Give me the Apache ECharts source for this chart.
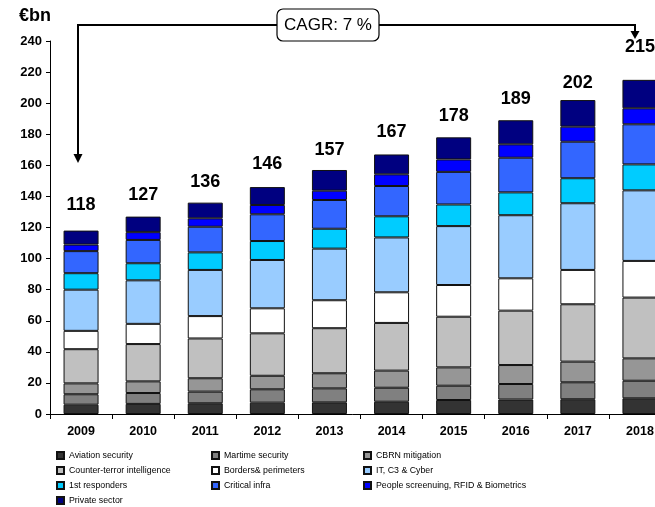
<!DOCTYPE html>
<html>
<head>
<meta charset="utf-8">
<script src="https://cdn.jsdelivr.net/npm/echarts@6/dist/echarts.min.js"></script>
<style>
html,body{margin:0;padding:0;background:#fff;}
#chart{width:655px;height:507px;}
</style>
</head>
<body>
<div id="chart"></div>
<script>
// ---- data ----
const years = ['2009','2010','2011','2012','2013','2014','2015','2016','2017','2018'];
const totals = [118,127,136,146,157,167,178,189,202,215];
const seriesNames = ['Aviation security','Martime security','CBRN mitigation','Counter-terror intelligence','Borders& perimeters','IT, C3 & Cyber','1st responders','Critical infra','People screenuing, RFID & Biometrics','Private sector'];
const aviation   = [6.0,6.5,6.9,7.3,7.5,7.9,9.0,9.3,9.5,10.1];
const maritime   = [6.7,7.0,7.5,8.6,9.0,9.0,9.2,10.0,10.9,11.3];
const cbrn       = [7.0,7.5,8.6,8.7,9.7,11.0,11.8,12.2,13.3,14.4];
const ctIntel    = [22.0,24.0,25.6,27.3,29.0,30.7,32.6,35.0,36.9,39.1];
const borders    = [11.8,13.0,14.4,16.1,18.0,19.7,20.4,20.8,22.1,23.6];
const itCyber    = [26.5,28.0,29.7,31.1,33.2,35.3,37.9,40.6,42.9,45.4];
const responders = [10.6,11.0,11.3,12.2,12.8,13.6,13.9,14.7,16.1,16.7];
const critical   = [14.2,15.0,16.5,17.2,18.5,19.5,21.0,22.3,23.5,25.8];
const people     = [4.2,5.0,5.4,6.0,6.0,7.5,8.0,8.6,9.7,10.3];
const privateSec = [9.0,10.0,10.1,11.5,13.3,12.8,14.2,15.5,17.1,18.3];
const yTicks = {min:0, max:240, interval:20};
const cagrText = 'CAGR: 7 %';
const unitText = '€bn';

// ---- styles ----
const colors = ['#333333','#808080','#969696','#C0C0C0','#FFFFFF','#99CCFF','#00CCFF','#3366FF','#0000FF','#000080'];
const totalLabelGap = [17,13,12,14,11,13,12,12,8,24];
const FONT = 'Liberation Sans, Arial, sans-serif';

const values = [aviation,maritime,cbrn,ctIntel,borders,itCyber,responders,critical,people,privateSec];

const series = values.map((arr, i) => {
  const isLast = i === values.length - 1;
  return {
    name: seriesNames[i],
    type: 'bar',
    stack: 'total',
    barWidth: 35,
    itemStyle: {color: colors[i], borderColor: '#111', borderWidth: 1},
    emphasis: {disabled: true},
    animation: false,
    data: arr.map((v, j) => isLast ? {
      value: v,
      label: {
        show: true, position: 'top', distance: totalLabelGap[j],
        formatter: () => String(totals[j]),
        fontFamily: FONT, fontWeight: 'bold', fontSize: 18, color: '#000'
      }
    } : v)
  };
});

const legendCommon = {
  orient: 'vertical', itemWidth: 7, itemHeight: 7, itemGap: 6, icon: 'rect',
  textStyle: {fontFamily: FONT, fontSize: 8.8, color: '#000'},
  selectedMode: false, padding: 0
};

const chart = echarts.init(document.getElementById('chart'), null, {renderer: 'canvas'});
chart.setOption({
  animation: false,
  backgroundColor: '#fff',
  grid: {left: 50, top: 41, width: 621, height: 373, containLabel: false, outerBoundsMode: 'none'},
  xAxis: {
    type: 'category', data: years,
    axisLine: {show: true, lineStyle: {color: '#000', width: 1}},
    axisTick: {show: true, length: 5, lineStyle: {color: '#000'}},
    axisLabel: {fontFamily: FONT, fontWeight: 'bold', fontSize: 12.5, color: '#000', margin: 11}
  },
  yAxis: {
    type: 'value', min: yTicks.min, max: yTicks.max, interval: yTicks.interval,
    splitLine: {show: false},
    axisLine: {show: true, lineStyle: {color: '#000', width: 1}},
    axisTick: {show: true, length: 4, lineStyle: {color: '#000'}},
    axisLabel: {fontFamily: FONT, fontWeight: 'bold', fontSize: 13, color: '#000', margin: 8}
  },
  legend: [
    Object.assign({left: 56, top: 451, data: [seriesNames[0], seriesNames[3], seriesNames[6], seriesNames[9]]}, legendCommon),
    Object.assign({left: 211, top: 451, data: [seriesNames[1], seriesNames[4], seriesNames[7]]}, legendCommon),
    Object.assign({left: 363, top: 451, data: [seriesNames[2], seriesNames[5], seriesNames[8]]}, legendCommon)
  ],
  series: series,
  graphic: [
    {type: 'text', left: 19, top: 7, style: {text: unitText, font: 'bold 18px ' + FONT, fill: '#000'}},
    {type: 'polyline', shape: {points: [[78,155],[78,25],[277,25]]}, style: {stroke: '#000', lineWidth: 2, fill: null}},
    {type: 'polygon', shape: {points: [[73.5,154],[82.5,154],[78,163]]}, style: {fill: '#000'}},
    {type: 'polyline', shape: {points: [[379,25],[635,25],[635,32]]}, style: {stroke: '#000', lineWidth: 2, fill: null}},
    {type: 'polygon', shape: {points: [[630.5,31],[639.5,31],[635,39]]}, style: {fill: '#000'}},
    {type: 'rect', shape: {x: 277, y: 9, width: 102, height: 32, r: 6}, style: {stroke: '#000', lineWidth: 1.2, fill: '#fff'}},
    {type: 'text', x: 328, y: 25, style: {text: cagrText, font: '17px ' + FONT, fill: '#000', align: 'center', verticalAlign: 'middle'}}
  ]
});
</script>
</body>
</html>
